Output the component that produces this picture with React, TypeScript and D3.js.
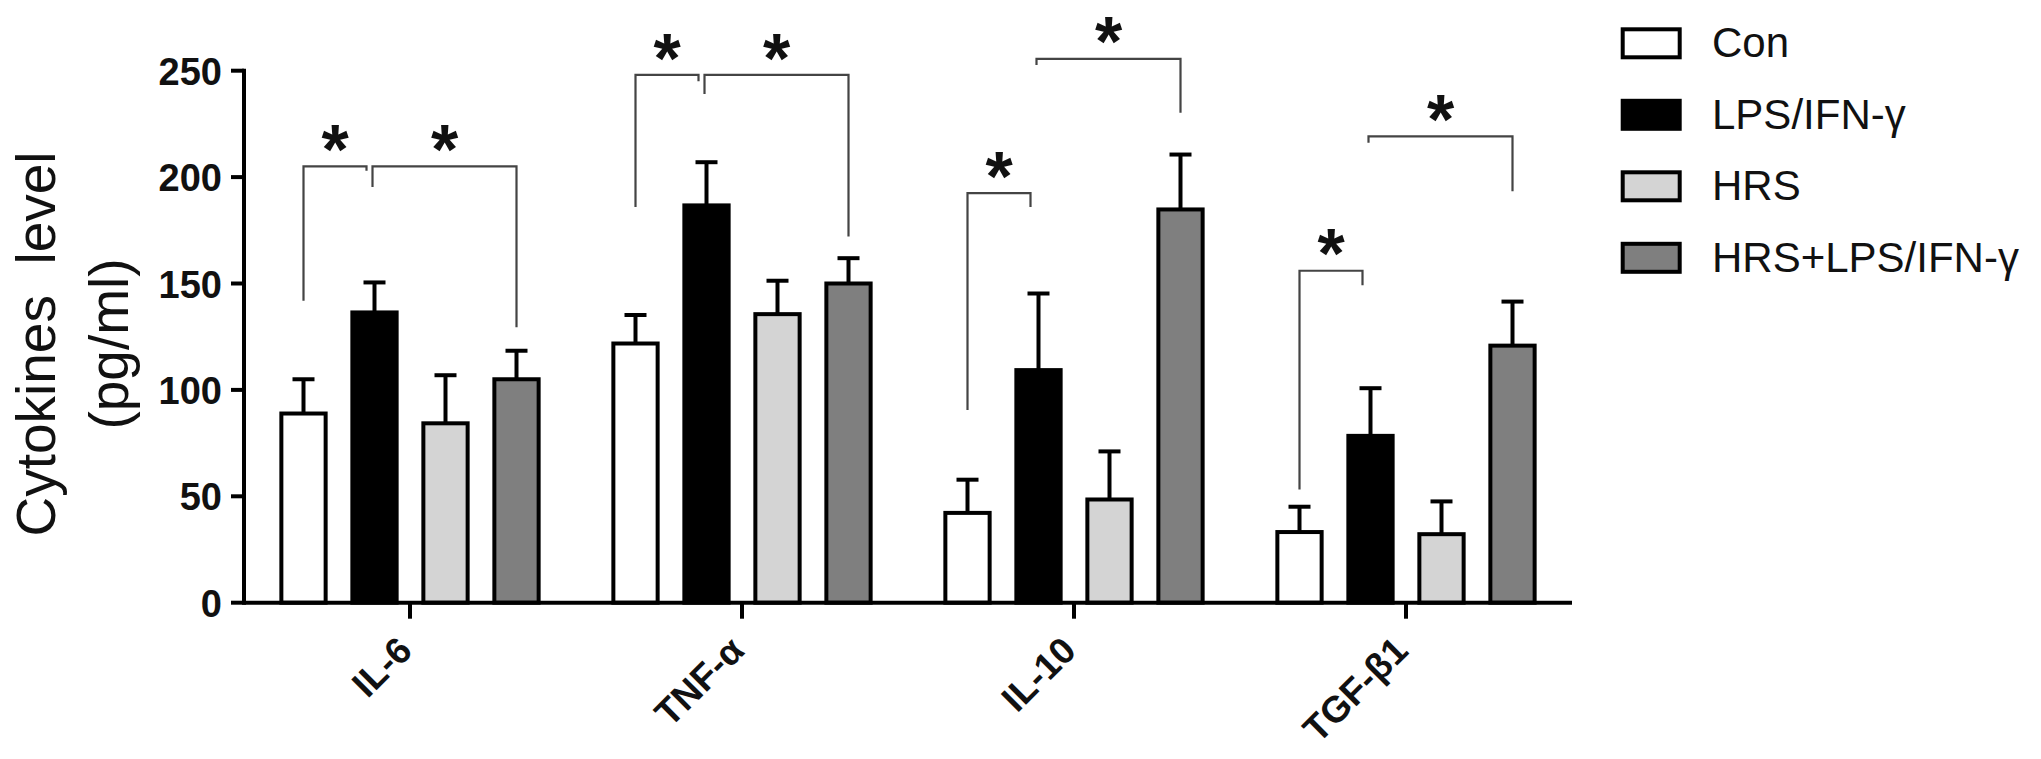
import React from "react";
import * as d3 from "d3";

const categories = ["IL-6", "TNF-α", "IL-10", "TGF-β1"];
const seriesNames = ["Con", "LPS/IFN-γ", "HRS", "HRS+LPS/IFN-γ"];
const seriesFill = ["#ffffff", "#000000", "#d4d4d4", "#7f7f7f"];

const conMean = [88.9, 121.8, 42.2, 33.2];
const lpsMean = [136.4, 186.7, 109.3, 78.4];
const hrsMean = [84.3, 135.6, 48.5, 32.2];
const hrsLpsMean = [105.0, 150.0, 184.8, 120.8];

const conErr = [16.1, 13.4, 15.6, 11.9];
const lpsErr = [14.1, 20.3, 36.0, 22.4];
const hrsErr = [22.6, 15.7, 22.6, 15.4];
const hrsLpsErr = [13.4, 11.9, 25.8, 20.7];

const yTicks = [0, 50, 100, 150, 200, 250];

// significance brackets: category index, from series, to series, bar height, left leg end, right leg end (values)
const bracketCat = [0, 0, 1, 1, 2, 2, 3, 3];
const bracketFrom = [0, 1, 0, 1, 0, 1, 0, 1];
const bracketTo = [1, 3, 1, 3, 1, 3, 1, 3];
const bracketTop = [205, 205, 248, 248, 192.5, 255.6, 156, 219.1];
const bracketLeftEnd = [141.9, 195.3, 185.9, 239, 90.6, 252.7, 53.2, 216.2];
const bracketRightEnd = [203, 129.4, 245, 172.1, 186, 230.2, 149.2, 193.3];

const means = [conMean, lpsMean, hrsMean, hrsLpsMean];
const errs = [conErr, lpsErr, hrsErr, hrsLpsErr];

const W = 2041;
const H = 759;
const FONT = "'Liberation Sans', Arial, Helvetica, sans-serif";

export default function App() {
  const x = d3.scaleBand<string>().domain(categories).range([244, 1572]).paddingInner(0).paddingOuter(0);
  const xs = d3
    .scaleBand<string>()
    .domain(seriesNames)
    .range([-142, 142])
    .paddingInner(0.32)
    .paddingOuter(0.16);
  const y = d3.scaleLinear().domain([0, 250]).range([602.7, 70.7]);
  const bw = xs.bandwidth();
  const sw = 4;
  const y0 = y(0);
  const axisX = x.range()[0];
  const axisEnd = x.range()[1];

  const center = (ci: number, si: number) =>
    (x(categories[ci]) as number) + x.bandwidth() / 2 + (xs(seriesNames[si]) as number) + bw / 2;

  const starFs = 70;
  const titleCy = 344;

  return (
    <svg
      width={W}
      height={H}
      viewBox={`0 0 ${W} ${H}`}
      style={{ position: "absolute", left: 0, top: 0, display: "block", background: "#fff" }}
      fontFamily={FONT}
    >
      <rect x={0} y={0} width={W} height={H} fill="#fff" />

      {/* bars */}
      {categories.map((c, ci) =>
        seriesNames.map((s, si) => {
          const v = means[si][ci];
          const e = errs[si][ci];
          const cx = center(ci, si);
          const left = cx - bw / 2 + sw / 2;
          const wdt = bw - sw;
          return (
            <g key={`${c}-${s}`}>
              <line x1={cx} x2={cx} y1={y(v)} y2={y(v + e)} stroke="#000" strokeWidth={sw} />
              <line x1={cx - 11} x2={cx + 11} y1={y(v + e)} y2={y(v + e)} stroke="#000" strokeWidth={sw} />
              <rect
                x={left}
                y={y(v)}
                width={wdt}
                height={y0 - y(v)}
                fill={seriesFill[si]}
                stroke="#000"
                strokeWidth={sw}
              />
            </g>
          );
        })
      )}

      {/* significance brackets */}
      {bracketCat.map((ci, bi) => {
        const fromS = bracketFrom[bi];
        const toS = bracketTo[bi];
        let xl = center(ci, fromS);
        let xr = center(ci, toS);
        if (fromS === 0) xr -= 8;
        if (fromS === 1) xl -= 2;
        const yt = y(bracketTop[bi]);
        const d = `M${xl},${y(bracketLeftEnd[bi])}V${yt}H${xr}V${y(bracketRightEnd[bi])}`;
        const midX = (xl + xr) / 2;
        const starCy = yt - 33;
        return (
          <g key={`br-${bi}`}>
            <path d={d} fill="none" stroke="#444" strokeWidth={2.2} />
            <text
              x={midX}
              y={starCy + 0.58 * starFs}
              textAnchor="middle"
              fontSize={starFs}
              fontWeight="bold"
              fill="#111"
            >
              *
            </text>
          </g>
        );
      })}

      {/* y axis */}
      <line x1={axisX} x2={axisX} y1={y0 + sw / 2} y2={y(250) - sw / 2} stroke="#000" strokeWidth={sw} />
      {yTicks.map((t) => (
        <g key={`yt-${t}`}>
          <line x1={axisX - 13} x2={axisX} y1={y(t)} y2={y(t)} stroke="#000" strokeWidth={sw} />
          <text x={axisX - 22} y={y(t) + 14} textAnchor="end" fontSize={38} fontWeight="bold" fill="#111">
            {t}
          </text>
        </g>
      ))}

      {/* x axis */}
      <line x1={axisX} x2={axisEnd} y1={y0} y2={y0} stroke="#000" strokeWidth={sw} />
      {categories.map((c) => {
        const cx = (x(c) as number) + x.bandwidth() / 2;
        return (
          <g key={`xt-${c}`}>
            <line x1={cx} x2={cx} y1={y0} y2={y0 + 16} stroke="#000" strokeWidth={sw} />
            <text
              transform={`translate(${cx + 4},${y0 + 50}) rotate(-45)`}
              textAnchor="end"
              fontSize={37}
              fontWeight="bold"
              fill="#111"
            >
              {c}
            </text>
          </g>
        );
      })}

      {/* y title */}
      <text
        transform={`translate(55,${titleCy}) rotate(-90)`}
        textAnchor="middle"
        fontSize={55}
        fill="#111"
        style={{ whiteSpace: "pre" }}
      >
        {"Cytokines  level"}
      </text>
      <text
        transform={`translate(128,${titleCy}) rotate(-90)`}
        textAnchor="middle"
        fontSize={55}
        fill="#111"
      >
        (pg/ml)
      </text>

      {/* legend */}
      {seriesNames.map((s, si) => {
        const cy = 43.3 + si * 71.5;
        return (
          <g key={`lg-${s}`}>
            <rect x={1622.7} y={cy - 14} width={57} height={28} fill={seriesFill[si]} stroke="#000" strokeWidth={sw} />
            <text x={1712} y={cy + 14} fontSize={42} fill="#111">
              {s}
            </text>
          </g>
        );
      })}
    </svg>
  );
}
